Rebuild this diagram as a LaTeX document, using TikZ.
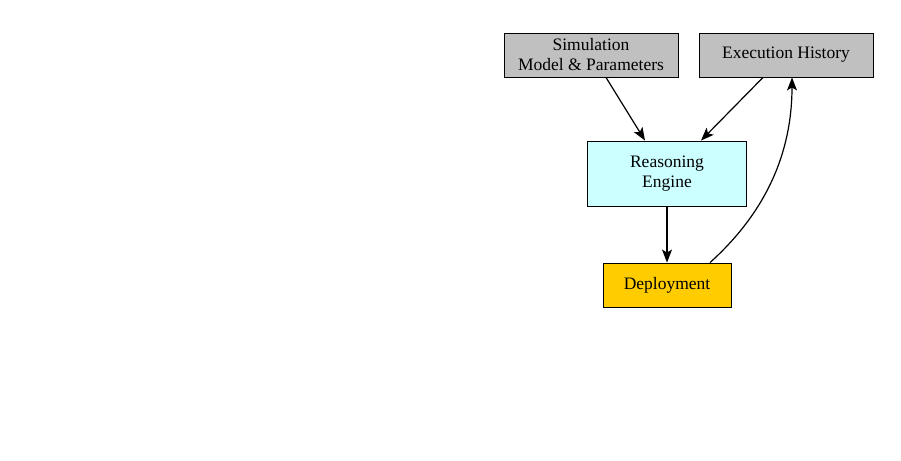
\documentclass[tikz,border=0pt]{standalone}
\usepackage{fontspec}
\setmainfont{Liberation Serif}
\usetikzlibrary{arrows.meta,positioning}

\definecolor{boxgray}{HTML}{C0C0C0}
\definecolor{boxcyan}{HTML}{CCFFFF}
\definecolor{boxgold}{HTML}{FFCC00}

\begin{document}
\begin{tikzpicture}[x=1pt, y=-1pt, > = {Stealth[length=13pt,width=10pt,inset=3pt]},
    block/.style = {draw, line width=0.9pt, align=center, inner sep=0pt, font=\fontsize{17.5}{20}\selectfont},
    flow/.style = {->, line width=1.2pt}]

    \useasboundingbox (0,0) rectangle (901,460);

    % inputs
    \node[block, fill=boxgray, minimum width=174pt, minimum height=44pt] (sim) at (591,55) {Simulation\\Model \& Parameters};
    \node[block, fill=boxgray, minimum width=174pt, minimum height=44pt] (hist) at (786,55) {Execution History};

    % engine and output
    \node[block, fill=boxcyan, minimum width=159pt, minimum height=65pt] (engine) at (667,173.5) {Reasoning\\Engine};
    \node[block, fill=boxgold, minimum width=128pt, minimum height=44pt] (deploy) at (667,285) {Deployment};

    % connectors
    \draw[flow] ([xshift=15pt]sim.south) -- ([xshift=-22pt]engine.north);
    \draw[flow] ([xshift=-23pt]hist.south) -- ([xshift=34pt]engine.north);
    \draw[flow] (engine) -- (deploy);
    \draw[flow] ([xshift=43pt]deploy.north) to[out=42, in=-90, looseness=0.95] ([xshift=6pt]hist.south);

\end{tikzpicture}
\end{document}
